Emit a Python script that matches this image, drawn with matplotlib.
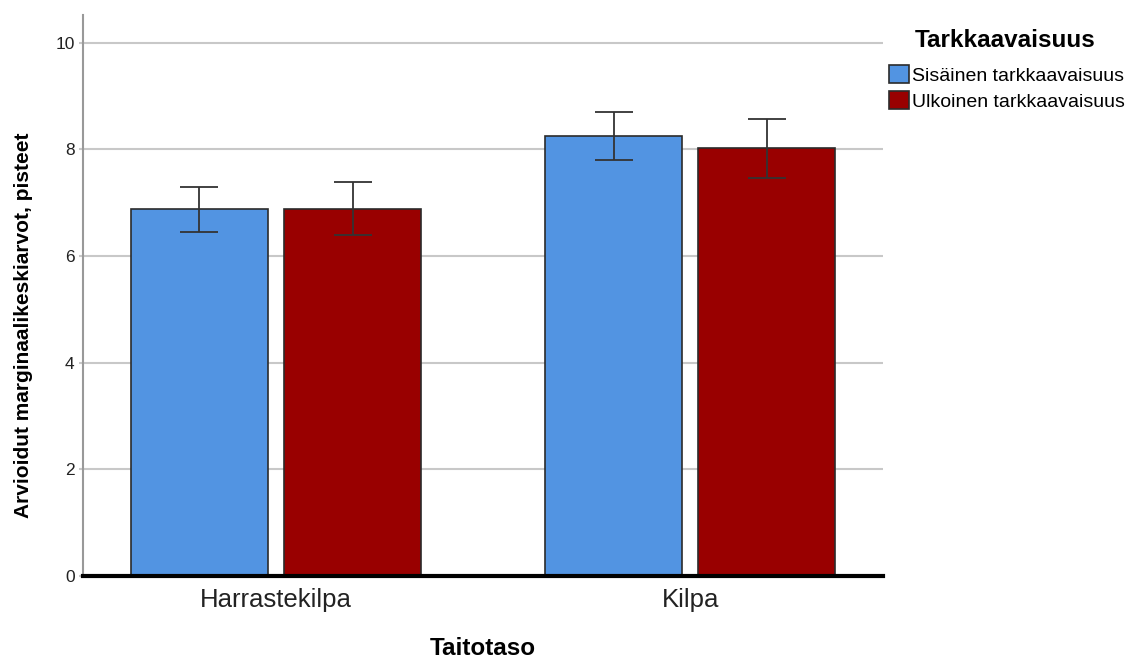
import numpy as np
import matplotlib.pyplot as plt
from matplotlib.patches import Patch

plt.rcParams['font.family'] = ['Liberation Sans', 'DejaVu Sans']

# estimated marginal means with 95% CI
groups = ['Harrastekilpa', 'Kilpa']
series = ['Sisäinen tarkkaavaisuus', 'Ulkoinen tarkkaavaisuus']
sisainen = [6.88, 8.26]
sisainen_lo = [6.46, 7.80]
sisainen_hi = [7.29, 8.71]
ulkoinen = [6.89, 8.02]
ulkoinen_lo = [6.40, 7.47]
ulkoinen_hi = [7.39, 8.57]

colors = ['#5294E2', '#990000']

fig = plt.figure(figsize=(11.27, 6.59), dpi=100)
ax = fig.add_axes([0.0737, 0.126, 0.71, 0.851])

x = np.arange(len(groups))
w = 0.331
off = 0.185

for i, (vals, lo, hi) in enumerate([(sisainen, sisainen_lo, sisainen_hi),
                                    (ulkoinen, ulkoinen_lo, ulkoinen_hi)]):
    pos = x + (-off if i == 0 else off)
    vals = np.array(vals)
    yerr = [vals - np.array(lo), np.array(hi) - vals]
    ax.bar(pos, vals, width=w, color=colors[i], edgecolor='#2b2b2b',
           linewidth=1.2, zorder=3)
    ax.errorbar(pos, vals, yerr=yerr, fmt='none', ecolor='#333333',
                elinewidth=1.3, capsize=13.5, capthick=1.3, zorder=4)

ax.set_xlim(-0.466, 1.466)
ax.set_ylim(0, 10.52)
ax.set_yticks([0, 2, 4, 6, 8, 10])
ax.set_yticklabels(['0', '2', '4', '6', '8', '10'], fontsize=12.5, color='#222222')
ax.set_xticks(x)
ax.set_xticklabels(groups, fontsize=18.5, color='#222222')
ax.tick_params(axis='x', length=0, pad=9)
ax.tick_params(axis='y', length=3, color='#c8c8c8', width=1.5, pad=3)
ax.grid(axis='y', color='#c8c8c8', linewidth=1.5, zorder=0)

for s in ['top', 'right']:
    ax.spines[s].set_visible(False)
ax.spines['left'].set_color('#999999')
ax.spines['left'].set_linewidth(1.5)
ax.spines['bottom'].set_color('black')
ax.spines['bottom'].set_linewidth(3)
ax.spines['bottom'].set_zorder(5)

ax.set_ylabel('Arvioidut marginaalikeskiarvot, pisteet', fontsize=15,
              fontweight='bold', labelpad=10)
ax.yaxis.set_label_coords(-0.063, 0.447)
ax.set_xlabel('Taitotaso', fontsize=17.5, fontweight='bold', labelpad=18)

# legend title drawn separately for more space above the entries
fig.text(0.8915, 0.939, 'Tarkkaavaisuus', fontsize=17.5, fontweight='bold',
         ha='center', va='center')
handles = [Patch(facecolor=c, edgecolor='#2b2b2b', linewidth=1.2) for c in colors]
leg = fig.legend(handles, series, loc='upper left', bbox_to_anchor=(0.789, 0.901),
                 frameon=False, fontsize=14,
                 handlelength=1.0, handleheight=1.0, handletextpad=0.15,
                 labelspacing=0.35, borderaxespad=0, borderpad=0)

fig.savefig('out.png', dpi=100)
